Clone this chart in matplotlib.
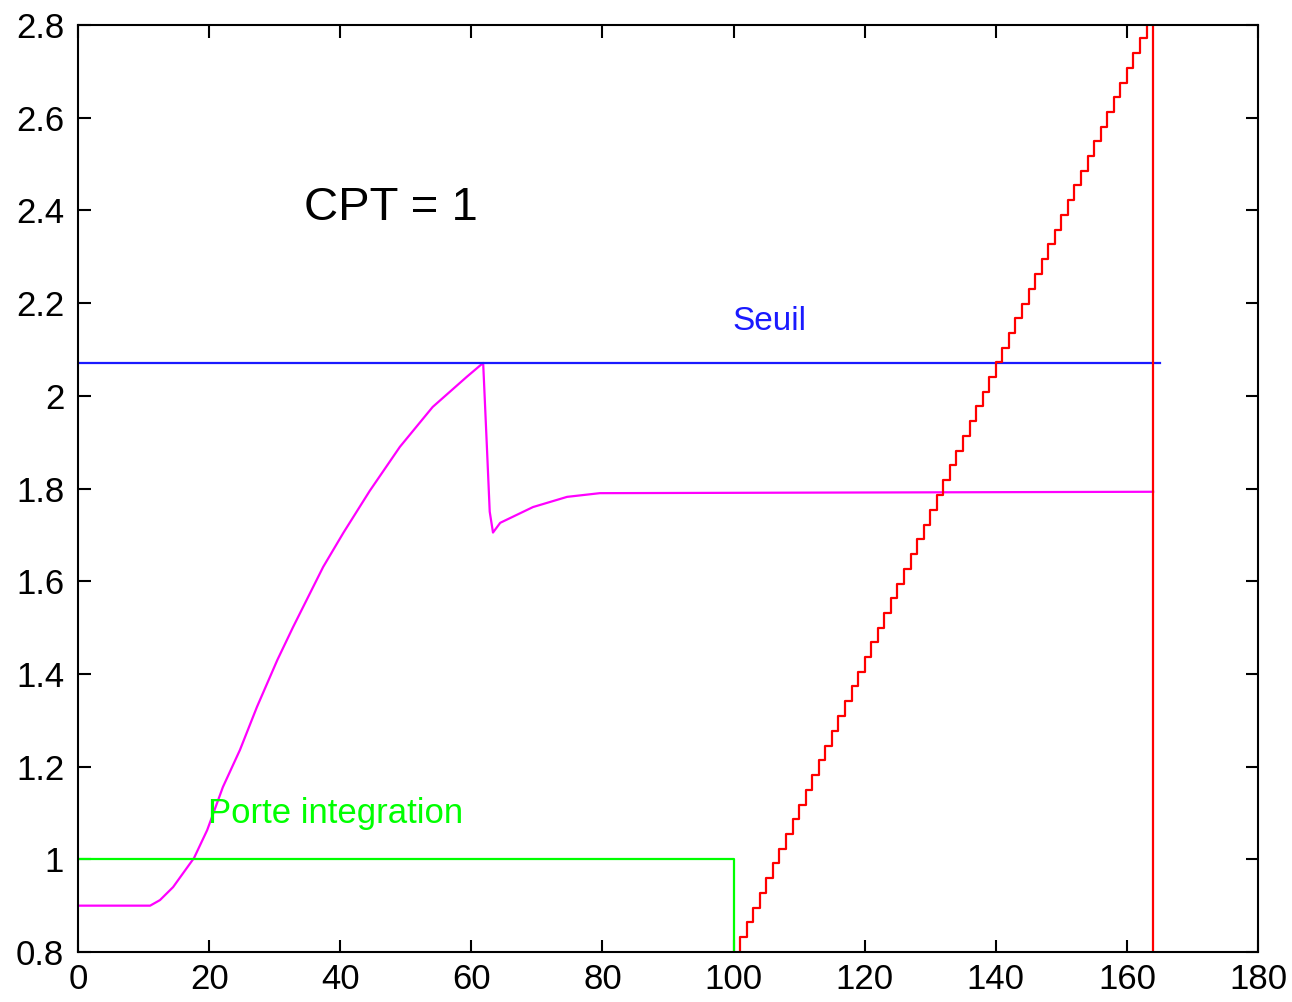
#!/usr/bin/env python3
"""
Integration gate / threshold chronogram (CPT = 1): integrator output,
threshold level, integration gate and counter ramp.

Outputs: out.png
"""

import matplotlib
matplotlib.use("Agg")
import matplotlib.pyplot as plt

# Integrator output (magenta)
integ_x = [0, 11.0, 12.5, 14.5, 17.7, 19.7, 22.1, 24.7, 27.3, 30.4, 32.8,
           37.4, 40.5, 44.5, 49.1, 54.1, 59.3, 61.8, 62.4, 62.8, 63.3,
           64.4, 69.4, 74.6, 79.6, 164]
integ_y = [0.90, 0.90, 0.912, 0.94, 1.003, 1.063, 1.156, 1.236, 1.329,
           1.43, 1.501, 1.631, 1.705, 1.795, 1.89, 1.976, 2.041, 2.071,
           1.88, 1.75, 1.705, 1.726, 1.76, 1.782, 1.79, 1.793]

# Threshold (blue)
seuil_x = [0, 165]
seuil_y = [2.07, 2.07]

# Integration gate (green)
porte_x = [0, 100, 100]
porte_y = [1.0, 1.0, 0.8]

# Counter ramp (red staircase)
ramp_x = list(range(101, 165))
ramp_y = [0.800, 0.832, 0.864, 0.896, 0.927, 0.959, 0.991, 1.023, 1.055,
          1.086, 1.118, 1.150, 1.182, 1.214, 1.245, 1.277, 1.309, 1.341,
          1.373, 1.404, 1.436, 1.468, 1.500, 1.532, 1.563, 1.595, 1.627,
          1.659, 1.691, 1.722, 1.754, 1.786, 1.818, 1.850, 1.881, 1.913,
          1.945, 1.977, 2.009, 2.040, 2.072, 2.104, 2.136, 2.168, 2.199,
          2.231, 2.263, 2.295, 2.327, 2.358, 2.390, 2.422, 2.454, 2.486,
          2.517, 2.549, 2.581, 2.613, 2.645, 2.676, 2.708, 2.740, 2.772,
          2.804]
stop_x = 164

x_ticks = list(range(0, 181, 20))
y_ticks = [0.8, 1.0, 1.2, 1.4, 1.6, 1.8, 2.0, 2.2, 2.4, 2.6, 2.8]
y_labels = ["0.8", "1", "1.2", "1.4", "1.6", "1.8", "2", "2.2", "2.4",
            "2.6", "2.8"]

plt.rcParams["font.family"] = ["Liberation Sans", "DejaVu Sans"]

fig = plt.figure(figsize=(12.92, 10.02), dpi=100)
ax = fig.add_axes([0.0604, 0.0499, 0.9133, 0.9251])

lw = 1.6
ax.plot(integ_x, integ_y, color="#FF00FF", lw=lw)
ax.plot(seuil_x, seuil_y, color="#1A1AFF", lw=lw)
ax.plot(porte_x, porte_y, color="#00FF00", lw=lw)
ax.plot(ramp_x, ramp_y, color="#FF0000", lw=lw, drawstyle="steps-pre")
ax.axvline(stop_x, color="#FF0000", lw=lw)

ax.text(34.5, 2.38, "CPT = 1", fontsize=34, color="black",
        ha="left", va="baseline")
ax.text(99.9, 2.142, "Seuil", fontsize=24, color="#1A1AFF",
        ha="left", va="baseline")
ax.text(19.8, 1.078, "Porte integration", fontsize=25, color="#00FF00",
        ha="left", va="baseline")

ax.set_xlim(0, 180)
ax.set_ylim(0.8, 2.8)
ax.set_xticks(x_ticks)
ax.set_yticks(y_ticks)
ax.set_yticklabels(y_labels)
ax.tick_params(direction="in", length=9, width=1.5, labelsize=25,
               top=True, right=True)
ax.tick_params(axis="y", pad=10)
ax.tick_params(axis="x", pad=8)
for s in ax.spines.values():
    s.set_linewidth(1.5)

fig.savefig("out.png", dpi=100)
